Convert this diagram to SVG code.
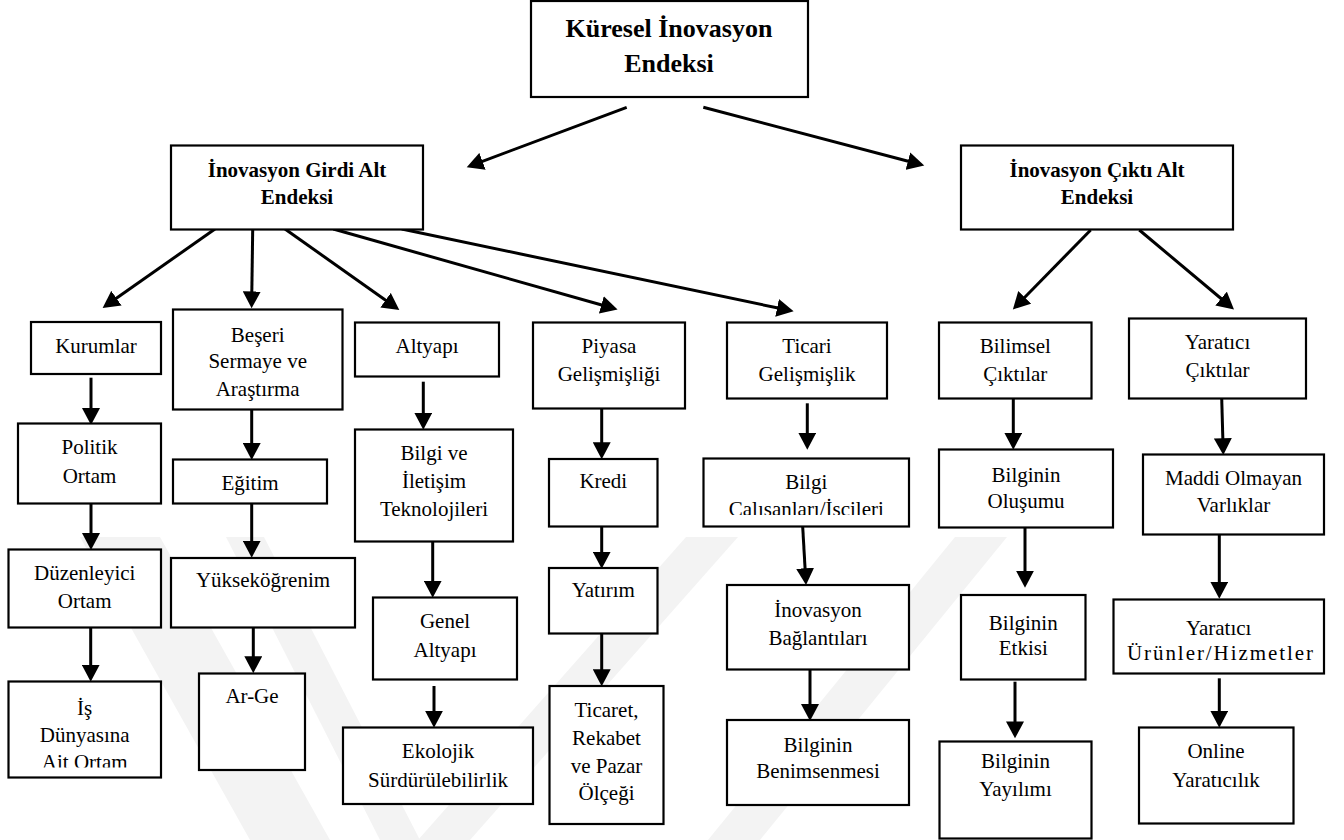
<svg xmlns="http://www.w3.org/2000/svg" width="1344" height="840" viewBox="0 0 1344 840">
  <style>
    .box { fill: #fff; stroke: #000; stroke-width: 2.2; }
    .lbl { font-family: 'Liberation Serif', 'DejaVu Serif', serif; font-size: 21px; fill: #000; text-anchor: middle; }
    .hdr { font-family: 'Liberation Serif', 'DejaVu Serif', serif; font-size: 21px; font-weight: bold; fill: #000; text-anchor: middle; }
    .top { font-size: 26px; }
    .edge { fill: none; stroke: #000; stroke-width: 3; marker-end: url(#head); }
    .mark { fill: #f3f3f3; }
  </style>
  <defs>
    <marker id="head" markerUnits="userSpaceOnUse" markerWidth="18" markerHeight="18" refX="2" refY="8" orient="auto" viewBox="0 0 16 16">
      <path d="M0,0 L15,8 L0,16 Z" fill="#000"/>
    </marker>
    <clipPath id="clipBilgi"><rect x="700" y="455" width="215" height="60"/></clipPath>
    <clipPath id="clipIs"><rect x="5" y="680" width="160" height="87.5"/></clipPath>
  </defs>
  <rect width="1344" height="840" fill="#fff"/>

  <!-- background watermark bands -->
  <g id="watermark">
    <polygon class="mark" points="80,537 160,537 330,840 250,840"/>
    <polygon class="mark" points="226,537 264,537 420,840 380,840"/>
    <polygon class="mark" points="686,537 738,537 470,840 418,840"/>
    <polygon class="mark" points="955,537 1007,537 760,840 708,840"/>
  </g>

  <!-- connectors -->
  <g id="connectors">
    <line class="edge" x1="626.7" y1="107.3" x2="480.4" y2="162.1"/>
    <line class="edge" x1="703.3" y1="107.3" x2="910.1" y2="161.7"/>

    <line class="edge" x1="215" y1="229" x2="114.6" y2="299.5"/>
    <line class="edge" x1="252.7" y1="229" x2="251.8" y2="293.7"/>
    <line class="edge" x1="285" y1="229" x2="387.4" y2="301.5"/>
    <line class="edge" x1="333.3" y1="229" x2="603.5" y2="305.5"/>
    <line class="edge" x1="401.7" y1="229" x2="779.3" y2="308.3"/>

    <line class="edge" x1="1090.7" y1="230" x2="1023.1" y2="299"/>
    <line class="edge" x1="1139.3" y1="230" x2="1222.8" y2="300"/>

    <line class="edge" x1="91" y1="377.7" x2="91" y2="410.3"/>
    <line class="edge" x1="91" y1="503" x2="91" y2="535.3"/>
    <line class="edge" x1="90.7" y1="628" x2="90.7" y2="667"/>

    <line class="edge" x1="251.7" y1="410" x2="251.7" y2="445.3"/>
    <line class="edge" x1="251.7" y1="500" x2="251.7" y2="543"/>
    <line class="edge" x1="253.3" y1="628" x2="253.3" y2="658.5"/>

    <line class="edge" x1="423.3" y1="381.7" x2="423.3" y2="415"/>
    <line class="edge" x1="432.7" y1="542" x2="432.7" y2="583"/>
    <line class="edge" x1="434" y1="686" x2="434" y2="713"/>

    <line class="edge" x1="601.7" y1="408" x2="601.7" y2="444.5"/>
    <line class="edge" x1="601.7" y1="527" x2="601.7" y2="554"/>
    <line class="edge" x1="601.7" y1="633" x2="601.7" y2="671.5"/>

    <line class="edge" x1="807.3" y1="403.3" x2="807.3" y2="435"/>
    <line class="edge" x1="802.7" y1="527" x2="805.2" y2="570.5"/>
    <line class="edge" x1="810" y1="666.7" x2="810" y2="706.3"/>

    <line class="edge" x1="1013.3" y1="398" x2="1013.3" y2="435"/>
    <line class="edge" x1="1025" y1="528" x2="1025" y2="573"/>
    <line class="edge" x1="1015" y1="681.7" x2="1015" y2="723.7"/>

    <line class="edge" x1="1221.7" y1="398" x2="1222.9" y2="440.5"/>
    <line class="edge" x1="1219.3" y1="534" x2="1219.3" y2="584"/>
    <line class="edge" x1="1219.3" y1="678.3" x2="1219.3" y2="713"/>
  </g>

  <!-- index nodes -->
  <g id="gii">
    <rect class="box" x="531" y="1" width="277" height="96"/>
    <text class="hdr top" x="669" y="37">Küresel İnovasyon</text>
    <text class="hdr top" x="669" y="72">Endeksi</text>
  </g>
  <g id="input-index">
    <rect class="box" x="171" y="145.5" width="252" height="84"/>
    <text class="hdr" x="297" y="177">İnovasyon Girdi Alt</text>
    <text class="hdr" x="297" y="203.5">Endeksi</text>
  </g>
  <g id="output-index">
    <rect class="box" x="961" y="145.5" width="272" height="84"/>
    <text class="hdr" x="1097" y="177">İnovasyon Çıktı Alt</text>
    <text class="hdr" x="1097" y="203.5">Endeksi</text>
  </g>

  <!-- Kurumlar column -->
  <g id="kurumlar">
    <rect class="box" x="31" y="322" width="130" height="52"/>
    <text class="lbl" x="96" y="353.3">Kurumlar</text>
  </g>
  <g id="politik-ortam">
    <rect class="box" x="18" y="423.5" width="143" height="80"/>
    <text class="lbl" x="89.5" y="454">Politik</text>
    <text class="lbl" x="89.5" y="482.7">Ortam</text>
  </g>
  <g id="duzenleyici-ortam">
    <rect class="box" x="8.5" y="549.5" width="152.5" height="78"/>
    <text class="lbl" x="84.7" y="580">Düzenleyici</text>
    <text class="lbl" x="84.7" y="608.3">Ortam</text>
  </g>
  <g id="is-dunyasi">
    <rect class="box" x="8.5" y="681.5" width="152.5" height="96"/>
    <g clip-path="url(#clipIs)">
      <text class="lbl" x="84.7" y="715">İş</text>
      <text class="lbl" x="84.7" y="741.7">Dünyasına</text>
      <text class="lbl" x="84.7" y="768.5">Ait Ortam</text>
    </g>
  </g>

  <!-- Beşeri Sermaye column -->
  <g id="beseri-sermaye">
    <rect class="box" x="173" y="309.5" width="169.5" height="100"/>
    <text class="lbl" x="257.7" y="341.7">Beşeri</text>
    <text class="lbl" x="257.7" y="368.3">Sermaye ve</text>
    <text class="lbl" x="257.7" y="396">Araştırma</text>
  </g>
  <g id="egitim">
    <rect class="box" x="173" y="459.5" width="154" height="44"/>
    <text class="lbl" x="250" y="490">Eğitim</text>
  </g>
  <g id="yuksekogrenim">
    <rect class="box" x="171" y="558" width="184" height="69.5"/>
    <text class="lbl" x="263" y="586.7">Yükseköğrenim</text>
  </g>
  <g id="ar-ge">
    <rect class="box" x="199" y="673.5" width="106" height="96.5"/>
    <text class="lbl" x="252" y="703.3">Ar-Ge</text>
  </g>

  <!-- Altyapı column -->
  <g id="altyapi">
    <rect class="box" x="355" y="322.5" width="144" height="54"/>
    <text class="lbl" x="427" y="353.3">Altyapı</text>
  </g>
  <g id="bit">
    <rect class="box" x="355" y="429.5" width="158" height="112"/>
    <text class="lbl" x="434" y="460">Bilgi ve</text>
    <text class="lbl" x="434" y="488.3">İletişim</text>
    <text class="lbl" x="434" y="516">Teknolojileri</text>
  </g>
  <g id="genel-altyapi">
    <rect class="box" x="373" y="597.5" width="144" height="82"/>
    <text class="lbl" x="445" y="628.3">Genel</text>
    <text class="lbl" x="445" y="656.7">Altyapı</text>
  </g>
  <g id="ekolojik">
    <rect class="box" x="343" y="727.5" width="190" height="76.5"/>
    <text class="lbl" x="438" y="758.3">Ekolojik</text>
    <text class="lbl" x="438" y="786.7">Sürdürülebilirlik</text>
  </g>

  <!-- Piyasa column -->
  <g id="piyasa">
    <rect class="box" x="533" y="322.5" width="152" height="86"/>
    <text class="lbl" x="609" y="353.3">Piyasa</text>
    <text class="lbl" x="609" y="381">Gelişmişliği</text>
  </g>
  <g id="kredi">
    <rect class="box" x="549" y="459" width="108.5" height="67.5"/>
    <text class="lbl" x="603.3" y="488.3">Kredi</text>
  </g>
  <g id="yatirim">
    <rect class="box" x="549" y="568" width="108.5" height="65.5"/>
    <text class="lbl" x="603.3" y="596.7">Yatırım</text>
  </g>
  <g id="ticaret">
    <rect class="box" x="549.5" y="686" width="114" height="138"/>
    <text class="lbl" x="606.5" y="716.7">Ticaret,</text>
    <text class="lbl" x="606.5" y="745">Rekabet</text>
    <text class="lbl" x="606.5" y="773.3">ve Pazar</text>
    <text class="lbl" x="606.5" y="800">Ölçeği</text>
  </g>

  <!-- Ticari column -->
  <g id="ticari">
    <rect class="box" x="727" y="322.5" width="160" height="76"/>
    <text class="lbl" x="807" y="353.3">Ticari</text>
    <text class="lbl" x="807" y="381">Gelişmişlik</text>
  </g>
  <g id="bilgi-calisanlari">
    <rect class="box" x="703.5" y="458.5" width="205.5" height="68"/>
    <g clip-path="url(#clipBilgi)">
      <text class="lbl" x="806.3" y="489.3">Bilgi</text>
      <text class="lbl" x="806.3" y="516">Çalışanları/İşçileri</text>
    </g>
  </g>
  <g id="inovasyon-baglantilari">
    <rect class="box" x="727" y="585" width="182" height="84.5"/>
    <text class="lbl" x="818" y="616.7">İnovasyon</text>
    <text class="lbl" x="818" y="645">Bağlantıları</text>
  </g>
  <g id="bilginin-benimsenmesi">
    <rect class="box" x="727" y="720" width="182" height="85"/>
    <text class="lbl" x="818" y="751.7">Bilginin</text>
    <text class="lbl" x="818" y="778.3">Benimsenmesi</text>
  </g>

  <!-- Bilimsel column -->
  <g id="bilimsel">
    <rect class="box" x="939" y="322.5" width="152.5" height="76"/>
    <text class="lbl" x="1015.3" y="353.3">Bilimsel</text>
    <text class="lbl" x="1015.3" y="381">Çıktılar</text>
  </g>
  <g id="bilginin-olusumu">
    <rect class="box" x="939" y="449.5" width="174" height="78"/>
    <text class="lbl" x="1026" y="481.7">Bilginin</text>
    <text class="lbl" x="1026" y="508.3">Oluşumu</text>
  </g>
  <g id="bilginin-etkisi">
    <rect class="box" x="961" y="595" width="124.5" height="84.5"/>
    <text class="lbl" x="1023.3" y="630">Bilginin</text>
    <text class="lbl" x="1023.3" y="655">Etkisi</text>
  </g>
  <g id="bilginin-yayilimi">
    <rect class="box" x="939.5" y="741.5" width="152" height="97"/>
    <text class="lbl" x="1015.5" y="768.3">Bilginin</text>
    <text class="lbl" x="1015.5" y="795.7">Yayılımı</text>
  </g>

  <!-- Yaratıcı column -->
  <g id="yaratici-ciktilar">
    <rect class="box" x="1129" y="318.5" width="177" height="80"/>
    <text class="lbl" x="1217.5" y="349.3">Yaratıcı</text>
    <text class="lbl" x="1217.5" y="377.3">Çıktılar</text>
  </g>
  <g id="maddi-olmayan">
    <rect class="box" x="1143" y="454.5" width="181" height="80"/>
    <text class="lbl" x="1233.5" y="485">Maddi Olmayan</text>
    <text class="lbl" x="1233.5" y="511.7">Varlıklar</text>
  </g>
  <g id="yaratici-urunler">
    <rect class="box" x="1113.5" y="599.5" width="210.5" height="74"/>
    <text class="lbl" x="1218.7" y="635">Yaratıcı</text>
    <text class="lbl" x="1220" y="660" textLength="186" lengthAdjust="spacing">Ürünler/Hizmetler</text>
  </g>
  <g id="online">
    <rect class="box" x="1139" y="727.5" width="154.5" height="96"/>
    <text class="lbl" x="1216" y="758.3">Online</text>
    <text class="lbl" x="1216" y="786.7">Yaratıcılık</text>
  </g>
</svg>
